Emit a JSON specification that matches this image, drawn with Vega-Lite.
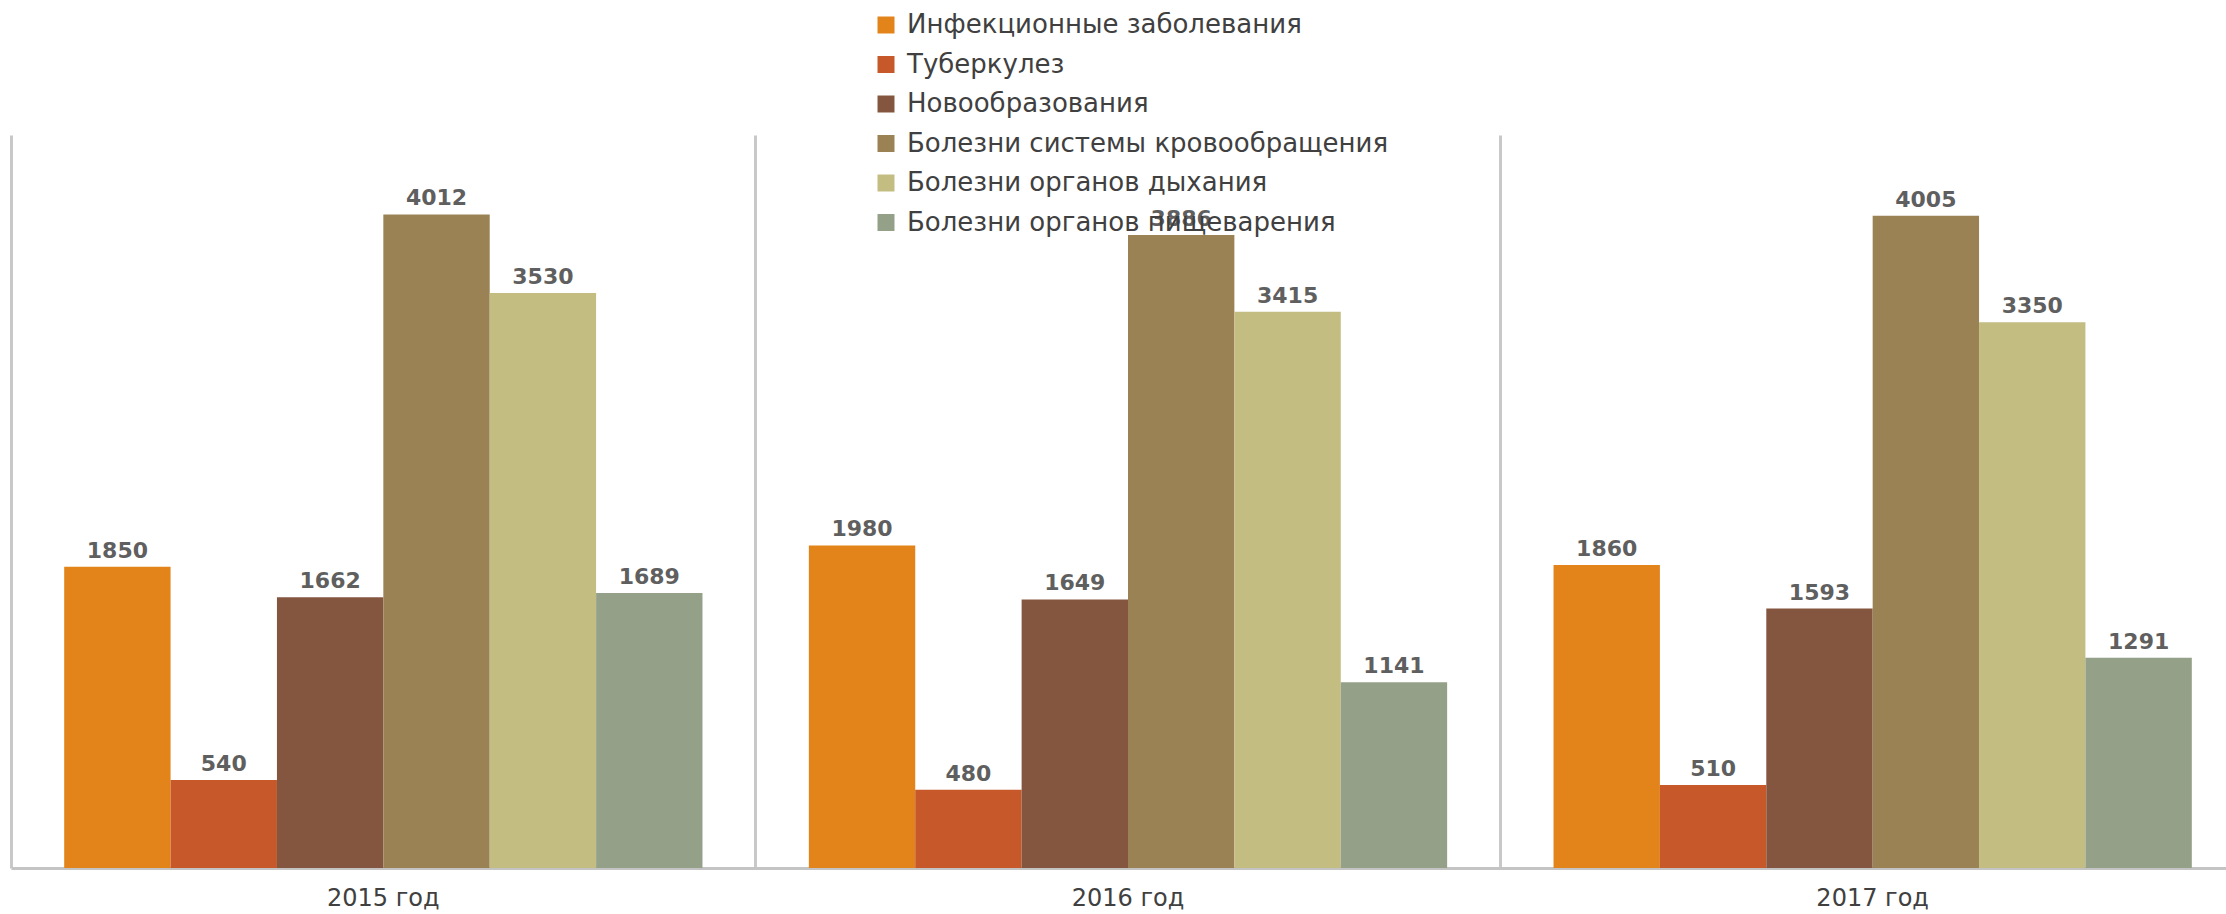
{
  "$schema": "https://vega.github.io/schema/vega-lite/v6.json",
  "autosize": {"type": "none"},
  "width": 2234,
  "height": 733,
  "padding": {"left": 11, "top": 135, "right": -19, "bottom": 46},
  "background": "white",
  "config": {"view": {"stroke": null}},
  "data": {"values": [
      {"year": "2015 год", "cause": "Инфекционные заболевания", "value": 1850},
      {"year": "2015 год", "cause": "Туберкулез", "value": 540},
      {"year": "2015 год", "cause": "Новообразования", "value": 1662},
      {"year": "2015 год", "cause": "Болезни системы кровообращения", "value": 4012},
      {"year": "2015 год", "cause": "Болезни органов дыхания", "value": 3530},
      {"year": "2015 год", "cause": "Болезни органов пищеварения", "value": 1689},
      {"year": "2016 год", "cause": "Инфекционные заболевания", "value": 1980},
      {"year": "2016 год", "cause": "Туберкулез", "value": 480},
      {"year": "2016 год", "cause": "Новообразования", "value": 1649},
      {"year": "2016 год", "cause": "Болезни системы кровообращения", "value": 3886},
      {"year": "2016 год", "cause": "Болезни органов дыхания", "value": 3415},
      {"year": "2016 год", "cause": "Болезни органов пищеварения", "value": 1141},
      {"year": "2017 год", "cause": "Инфекционные заболевания", "value": 1860},
      {"year": "2017 год", "cause": "Туберкулез", "value": 510},
      {"year": "2017 год", "cause": "Новообразования", "value": 1593},
      {"year": "2017 год", "cause": "Болезни системы кровообращения", "value": 4005},
      {"year": "2017 год", "cause": "Болезни органов дыхания", "value": 3350},
      {"year": "2017 год", "cause": "Болезни органов пищеварения", "value": 1291}
  ]},
  "encoding": {
    "x": {
      "field": "year", "type": "nominal",
      "scale": {"paddingInner": 0, "paddingOuter": 0},
      "axis": {
        "title": null, "labelAngle": 0, "ticks": false, "bandPosition": 0,
        "grid": true, "gridColor": "#C8C8C8", "gridWidth": 3,
        "domainColor": "#C4C4C4", "domainWidth": 3,
        "labelFont": "DejaVu Sans", "labelFontSize": 24, "labelColor": "#404040",
        "labelPadding": 18, "labelAlign": "center"
      }
    },
    "xOffset": {
      "field": "cause", "type": "nominal",
      "scale": {
        "domain": ["Инфекционные заболевания", "Туберкулез", "Новообразования", "Болезни системы кровообращения", "Болезни органов дыхания", "Болезни органов пищеварения"],
        "paddingOuter": 0.5, "paddingInner": 0
      }
    },
    "y": {
      "field": "value", "type": "quantitative",
      "scale": {"domain": [0, 4500], "nice": false},
      "axis": null
    }
  },
  "layer": [
    {
      "mark": {"type": "bar"},
      "encoding": {
        "color": {
          "field": "cause", "type": "nominal",
          "scale": {
            "domain": ["Инфекционные заболевания", "Туберкулез", "Новообразования", "Болезни системы кровообращения", "Болезни органов дыхания", "Болезни органов пищеварения"],
            "range": ["#E3841A", "#C65829", "#85563F", "#9A8254", "#C3BD82", "#94A087"]
          },
          "legend": {
            "title": null, "orient": "none", "legendX": 862, "legendY": -123,
            "padding": 0, "symbolType": "square", "symbolSize": 289, "symbolStrokeWidth": 0,
            "labelFont": "DejaVu Sans", "labelFontSize": 26, "labelColor": "#404040",
            "labelOffset": 8, "rowPadding": 13.5, "labelLimit": 1000
          }
        }
      }
    },
    {
      "mark": {"type": "text", "baseline": "bottom", "dy": -4, "font": "DejaVu Sans", "fontSize": 22, "fontWeight": "bold", "color": "#5F5F5F"},
      "encoding": {
        "text": {"field": "value", "type": "quantitative"}
      }
    }
  ]
}
